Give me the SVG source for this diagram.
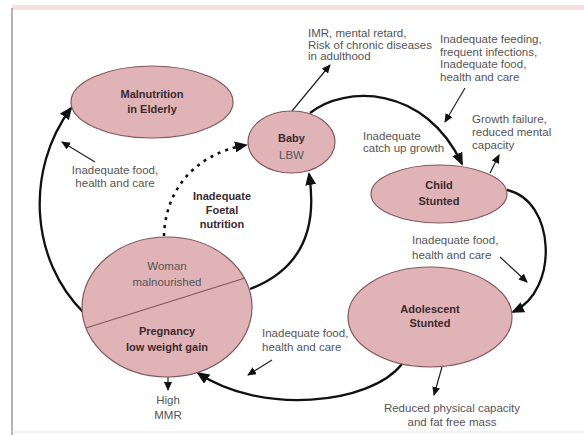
<svg xmlns="http://www.w3.org/2000/svg" width="584" height="435" viewBox="0 0 584 435">
<style>
.node{fill:#e0b3b7;stroke:#85575b;stroke-width:1.2}
.t{font-family:"Liberation Sans",Arial,sans-serif;font-size:11.5px;fill:#555}
.b{font-family:"Liberation Sans",Arial,sans-serif;font-size:11px;font-weight:bold;fill:#3b2a2c}
.c{text-anchor:middle}
.thick{fill:none;stroke:#111;stroke-width:2.3}
.thin{fill:none;stroke:#222;stroke-width:1.2}
.dot{fill:none;stroke:#111;stroke-width:2.6;stroke-dasharray:3 5}
</style>
<defs>
<marker id="ah" markerUnits="userSpaceOnUse" markerWidth="9" markerHeight="8" refX="8" refY="4" orient="auto"><path d="M0,0 L9,4 L0,8 z" fill="#111"/></marker>
<marker id="ahL" markerUnits="userSpaceOnUse" markerWidth="13" markerHeight="11" refX="11" refY="5.5" orient="auto"><path d="M0,0 L13,5.5 L0,11 z" fill="#111"/></marker>
</defs>
<rect x="0" y="0" width="584" height="435" fill="#fff"/>
<rect x="12" y="5" width="572" height="5" fill="#f7dfdf"/>
<line x1="12" y1="8" x2="12" y2="435" stroke="#9a9a9a" stroke-width="1.5"/>
<line x1="12" y1="432" x2="584" y2="432" stroke="#e4e4e4" stroke-width="1"/>

<g id="connectors">
<path class="thick" d="M84 313 C30 260 25 170 71 108" marker-end="url(#ahL)"/>
<path class="thin" d="M95 162 L62 142" marker-end="url(#ah)"/>
<path class="dot" d="M164 236 C165 195 190 155 246 145" marker-end="url(#ahL)"/>
<path class="thick" d="M250 289 C300 270 318 230 309 174" marker-end="url(#ahL)"/>
<path class="thin" d="M292 111 L330 65" marker-end="url(#ah)"/>
<path class="thick" d="M310 113 C345 85 425 85 462 164" marker-end="url(#ahL)"/>
<path class="thin" d="M465 88 L445 122" marker-end="url(#ah)"/>
<path class="thin" d="M490 173 L499 155" marker-end="url(#ah)"/>
<path class="thick" d="M507 190 C555 200 560 290 513 312" marker-end="url(#ahL)"/>
<path class="thin" d="M500 257 L527 282" marker-end="url(#ah)"/>
<path class="thick" d="M402 364 C370 405 260 415 198 373" marker-end="url(#ahL)"/>
<path class="thin" d="M272 360 L248 375" marker-end="url(#ah)"/>
<path class="thin" d="M442 367 L434 395" marker-end="url(#ah)"/>
<path class="thin" d="M168 361 L168 390" marker-end="url(#ah)"/>
</g>

<g id="elderly">
<ellipse class="node" cx="152" cy="102" rx="81" ry="36"/>
<text class="b c" x="152" y="98">Malnutrition</text>
<text class="b c" x="152" y="113">in Elderly</text>
</g>
<g id="baby">
<ellipse class="node" cx="291.5" cy="142" rx="43.5" ry="31"/>
<text class="b c" x="291.5" y="142">Baby</text>
<text class="t c" x="291.5" y="159" fill="#6a4a4d">LBW</text>
</g>
<g id="child">
<ellipse class="node" cx="439" cy="194" rx="68" ry="29"/>
<text class="b c" x="439" y="189">Child</text>
<text class="b c" x="439" y="205">Stunted</text>
</g>
<g id="adolescent">
<ellipse class="node" cx="430" cy="317" rx="82" ry="50"/>
<text class="b c" x="430" y="313">Adolescent</text>
<text class="b c" x="430" y="327">Stunted</text>
</g>
<g id="woman">
<ellipse class="node" cx="167" cy="307" rx="85" ry="70"/>
<line x1="86" y1="328" x2="245" y2="278" stroke="#85575b" stroke-width="1.2"/>
<text class="t c" x="167" y="270">Woman</text>
<text class="t c" x="167" y="286">malnourished</text>
<text class="b c" x="167" y="335">Pregnancy</text>
<text class="b c" x="167" y="351">low weight gain</text>
</g>

<g id="labels">
<text class="t" x="308" y="37">IMR, mental retard,</text>
<text class="t" x="308" y="48.5">Risk of chronic diseases</text>
<text class="t" x="308" y="60">in adulthood</text>
<text class="t" x="440" y="43">Inadequate feeding,</text>
<text class="t" x="440" y="56">frequent infections,</text>
<text class="t" x="440" y="68">Inadequate food,</text>
<text class="t" x="440" y="81">health and care</text>
<text class="t" x="363" y="140">Inadequate</text>
<text class="t" x="363" y="152">catch up growth</text>
<text class="t" x="472" y="123">Growth failure,</text>
<text class="t" x="472" y="136">reduced mental</text>
<text class="t" x="472" y="149">capacity</text>
<text class="t c" x="115" y="174">Inadequate food,</text>
<text class="t c" x="115" y="187">health and care</text>
<text class="b c" x="222" y="200">Inadequate</text>
<text class="b c" x="222" y="214">Foetal</text>
<text class="b c" x="222" y="228">nutrition</text>
<text class="t" x="412" y="244">Inadequate food,</text>
<text class="t" x="412" y="259">health and care</text>
<text class="t" x="262" y="337">Inadequate food,</text>
<text class="t" x="262" y="351">health and care</text>
<text class="t c" x="168" y="404">High</text>
<text class="t c" x="168" y="419">MMR</text>
<text class="t c" x="452" y="412">Reduced physical capacity</text>
<text class="t c" x="452" y="426">and fat free mass</text>
</g>
</svg>
